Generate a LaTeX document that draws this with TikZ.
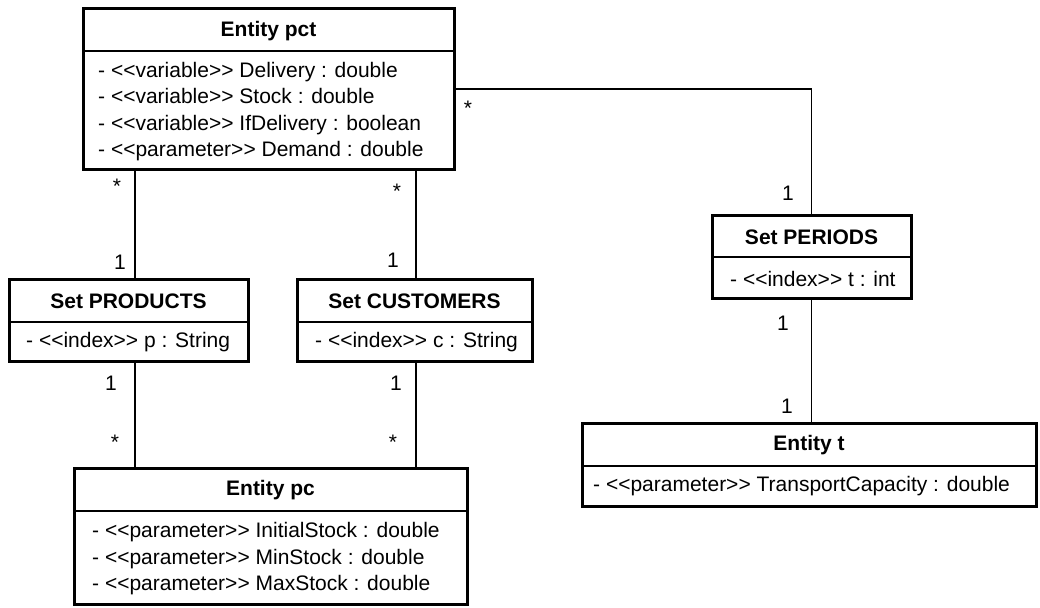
\documentclass[tikz,border=0pt]{standalone}
\usepackage{fontspec}
\newfontfamily\umlfont{Liberation Sans}
\begin{document}
\begin{tikzpicture}[x=1pt,y=-1pt,
  classbox/.style={draw, line width=3pt, rectangle, inner sep=0pt, outer sep=0pt, anchor=north west},
  sepline/.style={line width=1.4pt},
  conn/.style={line width=1.4pt},
  ttl/.style={font=\umlfont\bfseries\fontsize{21}{26}\selectfont, inner sep=0pt},
  attr/.style={font=\umlfont\fontsize{21}{26.5}\selectfont, align=left, inner sep=0pt, anchor=west},
  mult/.style={font=\umlfont\fontsize{21}{26}\selectfont, inner sep=0pt}]
\fill[white] (0,0) rectangle (1040,607);
\useasboundingbox (0,0) rectangle (1040,607);

% class frames
\node[classbox, minimum width=371pt, minimum height=160pt] (pct)  at (83,9) {};
\node[classbox, minimum width=239pt, minimum height=82pt]  (prod) at (9,279) {};
\node[classbox, minimum width=235pt, minimum height=82pt]  (cust) at (297,279) {};
\node[classbox, minimum width=199pt, minimum height=83pt]  (per)  at (712,215) {};
\node[classbox, minimum width=454pt, minimum height=83pt]  (et)   at (582,423) {};
\node[classbox, minimum width=393pt, minimum height=136pt] (pc)   at (74,468) {};

% compartment separators
\draw[sepline] (pct.west |- 0,51)  -- (pct.east |- 0,51);
\draw[sepline] (prod.west |- 0,322) -- (prod.east |- 0,322);
\draw[sepline] (cust.west |- 0,322) -- (cust.east |- 0,322);
\draw[sepline] (per.west |- 0,257)  -- (per.east |- 0,257);
\draw[sepline] (et.west |- 0,466)   -- (et.east |- 0,466);
\draw[sepline] (pc.west |- 0,511)   -- (pc.east |- 0,511);

% titles
\node[ttl] (pctT)  at (268.5,31) {Entity pct};
\node[ttl] (prodT) at (128.5,301) {Set PRODUCTS};
\node[ttl] (custT) at (414.5,301) {Set CUSTOMERS};
\node[ttl] (perT)  at (811.5,237) {Set PERIODS};
\node[ttl] (etT)   at (809,445) {Entity t};
\node[ttl] (pcT)   at (270.5,490) {Entity pc};

% attributes
\node[attr] (pctA) at (98,111.5) {- <<variable>> Delivery : double\\- <<variable>> Stock : double\\- <<variable>> IfDelivery : boolean\\- <<parameter>> Demand : double};
\node[attr] (prodA) at (26,342) {- <<index>> p : String};
\node[attr] (custA) at (315,342) {- <<index>> c : String};
\node[attr] (perA)  at (730,279) {- <<index>> t : int};
\node[attr] (etA)   at (593,486) {- <<parameter>> TransportCapacity : double};
\node[attr] (pcA)   at (92,559) {- <<parameter>> InitialStock : double\\- <<parameter>> MinStock : double\\- <<parameter>> MaxStock : double};

% associations
\draw[conn] (pct.south -| 135,0) -- (prod.north -| 135,0);
\draw[conn] (pct.south -| 416,0) -- (cust.north -| 416,0);
\draw[conn] (prod.south -| 135,0) -- (pc.north -| 135,0);
\draw[conn] (cust.south -| 416,0) -- (pc.north -| 416,0);
\draw[conn] (pct.east |- 0,89) -| (per.north);
\draw[conn] (per.south) -- (et.north -| per.south);

% multiplicities
\node[mult] (m1)  at (117,186) {*};
\node[mult] (m2)  at (120,262) {1};
\node[mult] (m3)  at (397,191) {*};
\node[mult] (m4)  at (393,260) {1};
\node[mult] (m5)  at (468,108) {*};
\node[mult] (m6)  at (788,193) {1};
\node[mult] (m7)  at (783,323) {1};
\node[mult] (m8)  at (787,406) {1};
\node[mult] (m9)  at (111,383) {1};
\node[mult] (m10) at (115,442) {*};
\node[mult] (m11) at (396,383) {1};
\node[mult] (m12) at (393,442) {*};
\end{tikzpicture}
\end{document}
